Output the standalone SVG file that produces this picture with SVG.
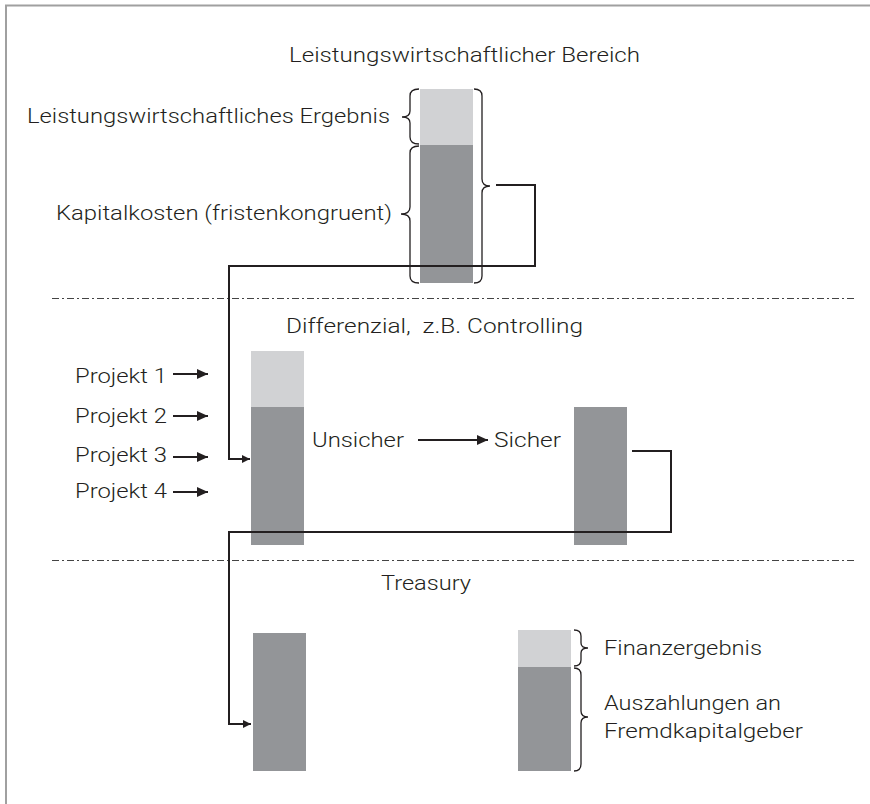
<svg xmlns="http://www.w3.org/2000/svg" width="870" height="804" viewBox="0 0 870 804">
<style>
  .t { font-family: Roboto, "Liberation Sans", sans-serif; font-size: 21px; font-weight: 300; fill: #231f20; }
  .light { fill: #d1d2d4; }
  .dark { fill: #939598; }
  .brace { fill: none; stroke: #231f20; stroke-width: 1.3; }
  .conn { fill: none; stroke: #231f20; stroke-width: 2; }
  .sep { stroke: #444; stroke-width: 1; stroke-dasharray: 7 3 2 3; }
  .frame { stroke: #a0a0a0; stroke-width: 2; fill: none; }
</style>
<defs>
  <marker id="ah" markerUnits="userSpaceOnUse" markerWidth="10" markerHeight="10" refX="8" refY="5" orient="auto">
    <path d="M0,1 L8,5 L0,9 Z" fill="#231f20"/>
  </marker>
  <marker id="ahb" markerUnits="userSpaceOnUse" markerWidth="12" markerHeight="12" refX="11" refY="6" orient="auto">
    <path d="M0,1 L11,6 L0,11 Z" fill="#231f20"/>
  </marker>
</defs>
<rect width="870" height="804" fill="#ffffff"/>
<path class="frame" d="M6,804 L6,5.5 L870,5.5"/>

<g id="separators">
  <line class="sep" x1="52" y1="298.5" x2="856" y2="298.5"/>
  <line class="sep" x1="52" y1="560.5" x2="856" y2="560.5"/>
</g>

<g id="section-top">
  <text class="t" x="289" y="62" textLength="351" lengthAdjust="spacingAndGlyphs">Leistungswirtschaftlicher Bereich</text>
</g>
<g id="bar-top">
  <rect class="light" x="420" y="89" width="53" height="56"/>
  <rect class="dark" x="420" y="145" width="53" height="138"/>
</g>
<g id="label-ergebnis">
  <text class="t" x="27" y="123" textLength="363" lengthAdjust="spacingAndGlyphs">Leistungswirtschaftliches Ergebnis</text>
  <path class="brace" d="M419,89 Q410,89 410,96 L410,111 Q410,117 402,117 Q410,117 410,123 L410,137 Q410,144 419,144"/>
</g>
<g id="label-kapitalkosten">
  <text class="t" x="56" y="220" textLength="336" lengthAdjust="spacingAndGlyphs">Kapitalkosten (fristenkongruent)</text>
  <path class="brace" d="M419,146 Q410,146 410,153 L410,207 Q410,214 401,214 Q410,214 410,221 L410,276 Q410,283 419,283"/>
</g>
<g id="brace-top-right">
  <path class="brace" d="M474,89 Q482,89 482,96 L482,179 Q482,186 490,186 Q482,186 482,193 L482,276 Q482,283 474,283"/>
</g>

<g id="section-middle">
  <text class="t" x="286" y="333" textLength="297" lengthAdjust="spacingAndGlyphs" xml:space="preserve">Differenzial,  z.B. Controlling</text>
</g>
<g id="bar-unsicher">
  <rect class="light" x="251" y="351" width="53" height="56"/>
  <rect class="dark" x="251" y="407" width="53" height="138"/>
</g>
<g id="projekte">
  <text class="t" x="75" y="383" textLength="92" lengthAdjust="spacingAndGlyphs">Projekt 1</text>
  <text class="t" x="75" y="423" textLength="92" lengthAdjust="spacingAndGlyphs">Projekt 2</text>
  <text class="t" x="75" y="462" textLength="92" lengthAdjust="spacingAndGlyphs">Projekt 3</text>
  <text class="t" x="75" y="498" textLength="92" lengthAdjust="spacingAndGlyphs">Projekt 4</text>
</g>
<g id="label-unsicher">
  <text class="t" x="312" y="447" textLength="92" lengthAdjust="spacingAndGlyphs">Unsicher</text>
</g>
<g id="label-sicher">
  <text class="t" x="494" y="447" textLength="67" lengthAdjust="spacingAndGlyphs">Sicher</text>
</g>
<g id="bar-sicher">
  <rect class="dark" x="574" y="407" width="53" height="138"/>
</g>

<g id="section-bottom">
  <text class="t" x="381" y="590" textLength="90" lengthAdjust="spacingAndGlyphs">Treasury</text>
</g>
<g id="bar-treasury-left">
  <rect class="dark" x="253" y="633" width="53" height="138"/>
</g>
<g id="bar-treasury-right">
  <rect class="light" x="518" y="630" width="53" height="37"/>
  <rect class="dark" x="518" y="667" width="53" height="104"/>
</g>
<g id="label-finanzergebnis">
  <path class="brace" d="M574,630 Q581,630 581,636 L581,643 Q581,648 588,648 Q581,648 581,653 L581,660 Q581,666 574,666"/>
  <text class="t" x="604" y="655" textLength="158" lengthAdjust="spacingAndGlyphs">Finanzergebnis</text>
</g>
<g id="label-auszahlungen">
  <path class="brace" d="M574,668 Q581,668 581,675 L581,711 Q581,717 588,717 Q581,717 581,723 L581,764 Q581,771 574,771"/>
  <text class="t" x="604" y="710" textLength="177" lengthAdjust="spacingAndGlyphs">Auszahlungen an</text>
  <text class="t" x="604" y="738" textLength="199" lengthAdjust="spacingAndGlyphs">Fremdkapitalgeber</text>
</g>

<g id="connectors">
  <path class="conn" d="M496,185 L535,185 L535,266 L229,266 L229,459 L250,459" marker-end="url(#ah)"/>
  <path class="conn" d="M632,451 L671,451 L671,532 L229,532 L229,724 L251,724" marker-end="url(#ah)"/>
  <line class="conn" x1="418" y1="440" x2="488" y2="440" marker-end="url(#ahb)"/>
  <line class="conn" x1="173" y1="374" x2="208" y2="374" marker-end="url(#ahb)"/>
  <line class="conn" x1="173" y1="416" x2="208" y2="416" marker-end="url(#ahb)"/>
  <line class="conn" x1="173" y1="457" x2="208" y2="457" marker-end="url(#ahb)"/>
  <line class="conn" x1="173" y1="492" x2="208" y2="492" marker-end="url(#ahb)"/>
</g>
</svg>
